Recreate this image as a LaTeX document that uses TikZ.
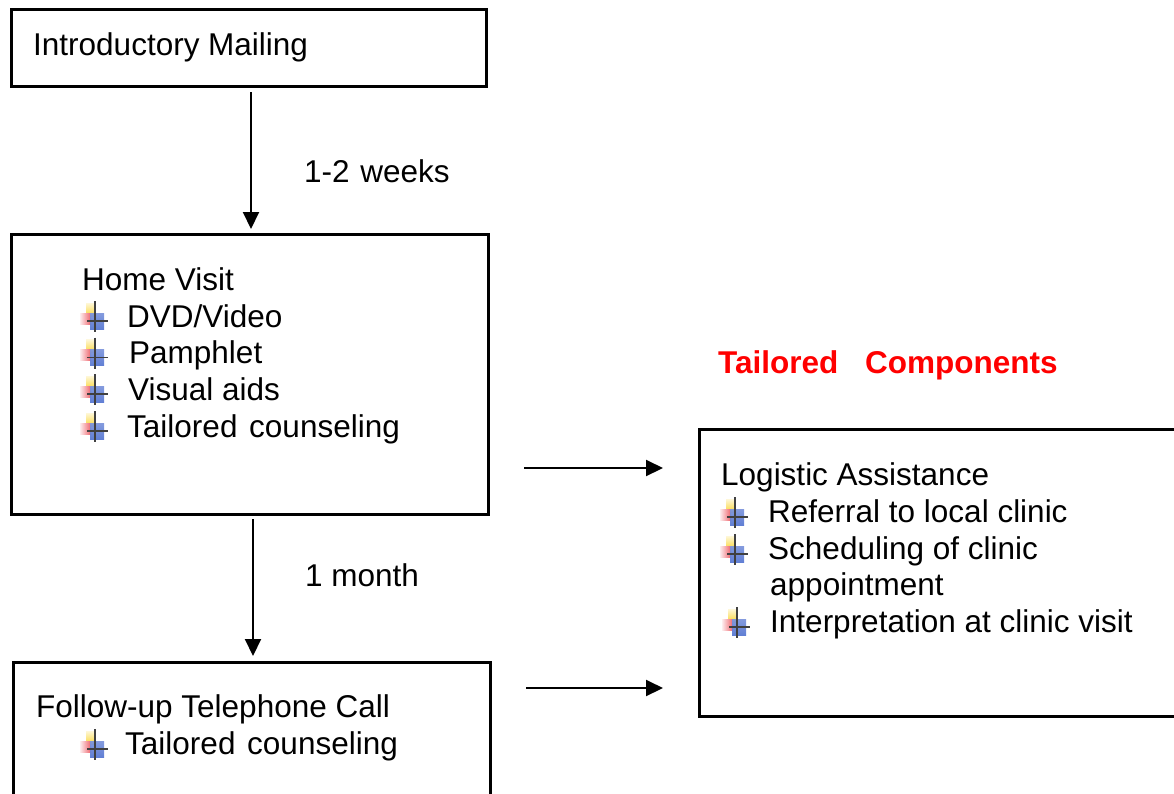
\documentclass[tikz,border=0pt]{standalone}
\usepackage{fontspec}
\setmainfont{Liberation Sans}
\usetikzlibrary{arrows.meta}
\definecolor{bulblue}{RGB}{70,105,205}
\definecolor{bulyel}{RGB}{250,215,60}
\definecolor{bulred}{RGB}{235,70,80}
\tikzset{
  x=1pt,y=-1pt,
  box/.style={draw,line width=3pt,rectangle,anchor=north west,inner sep=0pt},
  txt/.style={anchor=base west,inner sep=0pt,font=\fontsize{31.5}{36}\selectfont},
  ttl/.style={txt,text=red,font=\fontsize{31.5}{36}\selectfont\bfseries},
  conn/.style={line width=2pt,-{Triangle[length=17pt,width=16pt]}},
  bul/.pic={
    \shade[top color=bulyel!20,bottom color=bulyel] (-9,-18) rectangle (0,-5);
    \shade[left color=bulred!10,right color=bulred!85] (-15,-8) rectangle (-4,3);
    \shade[top color=bulblue!70,bottom color=bulblue!90,opacity=0.95] (-5,-8) rectangle (9,8);
    \draw[black!75,line width=1.9pt] (0,-20) -- (0,11);
    \draw[black!75,line width=1.9pt] (-8,0) -- (13,0);
  }
}
\begin{document}
\begin{tikzpicture}
\useasboundingbox (0,0) rectangle (1174,793);
% boxes
\node[box,minimum width=475pt,minimum height=77pt] (b1) at (10,8) {};
\node[box,minimum width=477pt,minimum height=280pt] (b2) at (10,233) {};
\node[box,minimum width=477pt,minimum height=200pt] (b3) at (12,661) {};
\node[box,minimum width=600pt,minimum height=287pt] (b4) at (698,428) {};
% texts
\node[txt] (t1) at (33,55) {Introductory Mailing};
\node[txt] (w1) at (304,182) {1-2\hspace{2pt} weeks};
\node[txt] (hv) at (82,290) {Home Visit};
\node[txt] (h1) at (127,327) {DVD/Video};
\node[txt] (h2) at (129,363.5) {Pamphlet};
\node[txt] (h3) at (128,400) {Visual aids};
\node[txt] (h4) at (127,437) {Tailored\hspace{3pt} counseling};
\node[ttl] (tc) at (718,373) {Tailored\hspace{18pt} Components};
\node[txt] (la) at (721,485) {Logistic Assistance};
\node[txt] (l1) at (768,522) {Referral to local clinic};
\node[txt] (l2) at (768,559) {Scheduling of clinic};
\node[txt] (l2b) at (770,595) {appointment};
\node[txt] (l3) at (770,632) {Interpretation at clinic visit};
\node[txt] (m1) at (305,586) {1 month};
\node[txt] (fu) at (36,717) {Follow-up Telephone Call};
\node[txt] (f1) at (125,754) {Tailored\hspace{3pt} counseling};
% bullets
\pic at (95,321) {bul};
\pic at (95,357.5) {bul};
\pic at (95,394) {bul};
\pic at (95,431) {bul};
\pic at (735,517) {bul};
\pic at (735,554) {bul};
\pic at (737,627) {bul};
\pic at (95,749) {bul};
% connector endpoints
\coordinate (a1s) at (251,92);
\coordinate (a1e) at (251,229);
\coordinate (a2s) at (253,519);
\coordinate (a2e) at (253,656);
\coordinate (a3s) at (524,468);
\coordinate (a3e) at (663,468);
\coordinate (a4s) at (526,688);
\coordinate (a4e) at (663,688);
\draw[conn] (a1s) -- (a1e);
\draw[conn] (a2s) -- (a2e);
\draw[conn] (a3s) -- (a3e);
\draw[conn] (a4s) -- (a4e);
\end{tikzpicture}
\end{document}
